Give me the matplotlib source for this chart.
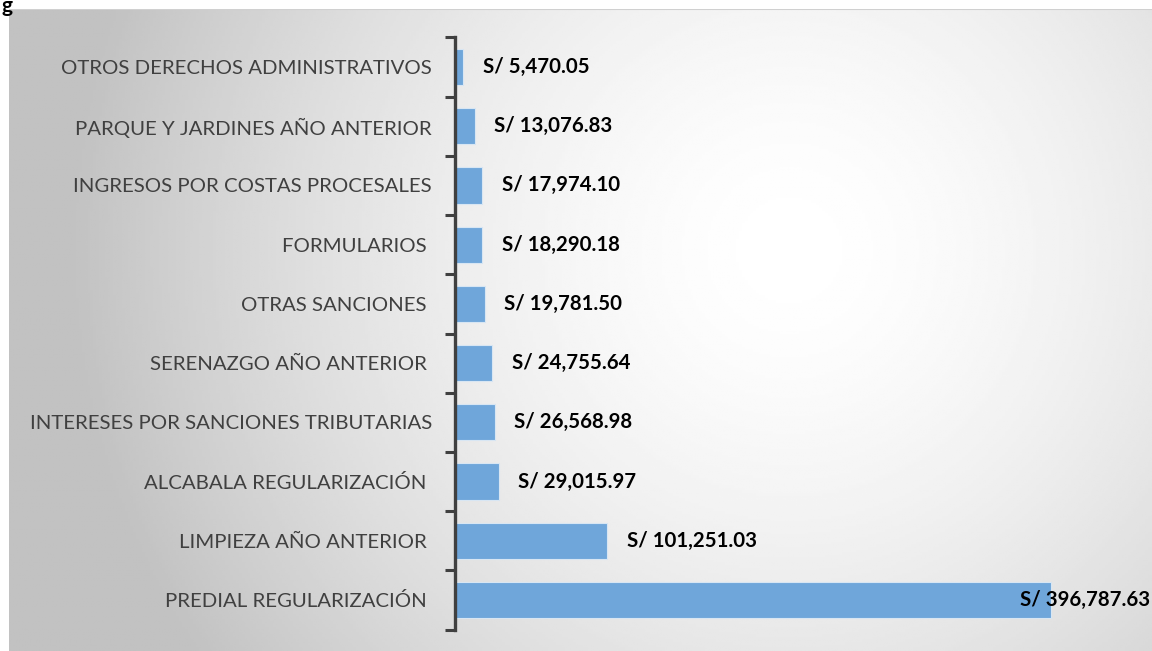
import numpy as np
import matplotlib.pyplot as plt
from matplotlib.ticker import FixedLocator

# data, top to bottom as shown in the chart
categories = [
    "OTROS DERECHOS ADMINISTRATIVOS",
    "PARQUE Y JARDINES AÑO ANTERIOR",
    "INGRESOS POR COSTAS PROCESALES",
    "FORMULARIOS ",
    "OTRAS SANCIONES ",
    "SERENAZGO AÑO ANTERIOR ",
    "INTERESES POR SANCIONES TRIBUTARIAS",
    "ALCABALA REGULARIZACIÓN ",
    "LIMPIEZA AÑO ANTERIOR ",
    "PREDIAL REGULARIZACIÓN ",
]
values = [5470.05, 13076.83, 17974.10, 18290.18, 19781.50,
          24755.64, 26568.98, 29015.97, 101251.03, 396787.63]

W, H = 1152, 651
fig = plt.figure(figsize=(W / 100, H / 100), dpi=100)
fig.patch.set_facecolor("white")

# chart area with radial gradient background
x0, y0 = 9, 9
bg = fig.add_axes([x0 / W, 0, 1 - x0 / W, 1 - y0 / H])
gx, gy = np.meshgrid(np.linspace(x0, W, 400), np.linspace(y0, H, 250))
r = np.hypot(gx - 790, gy - 250) / 720
shade = np.clip(1.0 - 0.24 * r ** 1.6, 0.76, 1.0)
bg.imshow(shade, cmap="gray", vmin=0, vmax=1, aspect="auto",
          extent=[0, 1, 0, 1], origin="upper")
bg.axhline(1, color="#d0d0d0", lw=1.5)
bg.set_axis_off()

# leftover of the title line above the chart
fig.text(1 / W, 1.0 + 4 / H, "g", fontsize=15, fontweight="bold",
         family="Lato", va="top", ha="left")

# bar axes
ax = fig.add_axes([455 / W, (H - 629.6) / H, 1 - 455 / W, (629.6 - 37.4) / H])
ax.patch.set_alpha(0)
n = len(categories)
ypos = np.arange(n)[::-1]
ax.barh(ypos, values, height=0.61, color="#6FA6DA", edgecolor="#D8E6F3",
        linewidth=0.8)
xmax = 464000
ax.set_xlim(0, xmax)
ax.set_ylim(-0.5, n - 0.5)

fs = 14.7
for y, v in zip(ypos, values):
    lab = f"S/ {v:,.2f}"
    if v > 0.8 * xmax:
        ax.text(xmax - 0.002 * xmax, y, lab, ha="right", va="center",
                fontsize=fs, fontweight="bold", family="Lato", color="black")
    else:
        ax.text(v + 13000, y, lab, ha="left", va="center",
                fontsize=fs, fontweight="bold", family="Lato", color="black")

ax.set_yticks(ypos)
ax.set_yticklabels(categories, fontsize=fs, family="Lato", color="#404040")
ax.tick_params(axis="y", which="major", length=0, pad=16.5)
ax.yaxis.set_minor_locator(FixedLocator(np.arange(-0.5, n, 1.0)))
ax.tick_params(axis="y", which="minor", length=7, width=2.2, color="#404040")
ax.set_xticks([])
for s in ["top", "right", "bottom"]:
    ax.spines[s].set_visible(False)
ax.spines["left"].set_linewidth(2.4)
ax.spines["left"].set_color("#404040")

fig.savefig("out.png", dpi=100)
